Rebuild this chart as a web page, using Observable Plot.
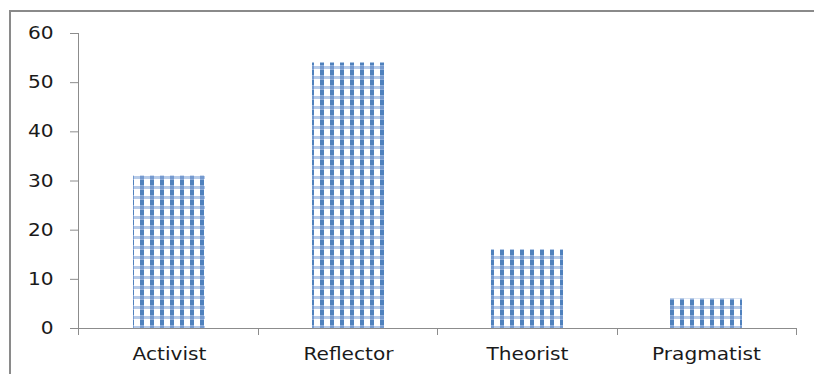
<!DOCTYPE html>
<html><head><meta charset="utf-8">
<script src="https://cdn.jsdelivr.net/npm/d3@7"></script>
<script src="https://cdn.jsdelivr.net/npm/@observablehq/plot@0.6"></script>
<style>body{margin:0;background:#fff}#chart{position:relative;width:814px;height:374px}</style>
</head><body><div id="chart"></div>
<script>
const categories = ["Activist", "Reflector", "Theorist", "Pragmatist"];
const values = [31, 54, 16, 6];
const yTicks = [0, 10, 20, 30, 40, 50, 60];

const data = categories.map((c, i) => ({category: c, value: values[i]}));
const grid = "#8c8c8c";

const plot = Plot.plot({
  width: 814, height: 374,
  marginLeft: 78, marginRight: 18, marginTop: 33, marginBottom: 46,
  style: {fontFamily: "DejaVu Sans", fontSize: "17.5px", color: "#1a1a1a", background: "white"},
  x: {domain: categories, paddingInner: 0.6, paddingOuter: 0.3, label: null},
  y: {domain: [0, 60], ticks: yTicks, label: null},
  marks: [
    Plot.ruleY(yTicks, {stroke: grid, strokeWidth: 1, x1: null}),
    Plot.barY(data, {x: "category", y: "value", fill: "url(#checker)"}),
    Plot.axisY({ticks: yTicks, tickSize: 8, tickPadding: 17, stroke: grid, strokeOpacity: 1, fontSize: 17.5}),
    Plot.axisX({tickSize: 0, tickPadding: 19, fontSize: 17.5}),
    Plot.ruleX([0], {stroke: grid})
  ]
});

const svg = d3.select(plot);
const defs = svg.insert("defs", ":first-child");
const pat = defs.append("pattern").attr("id", "checker").attr("patternUnits", "userSpaceOnUse")
  .attr("width", 10).attr("height", 10);
pat.append("rect").attr("width", 10).attr("height", 10).attr("fill", "#ffffff");
pat.append("rect").attr("x", 0).attr("width", 4).attr("height", 10).attr("fill", "#8eaedb");
pat.append("rect").attr("y", 6).attr("width", 10).attr("height", 3).attr("fill", "#b7cbe8");
pat.append("rect").attr("x", 0).attr("y", 6).attr("width", 4).attr("height", 3).attr("fill", "#7499cf");
pat.append("rect").attr("x", 0).attr("y", 0).attr("width", 4).attr("height", 5).attr("fill", "#4f81bd");

// stretch tick labels horizontally like the reference
svg.selectAll("g[aria-label$='tick label'] text").each(function() {
  const t = this.getAttribute("transform") || "";
  this.setAttribute("transform", t + " scale(1.15,1)");
});

// x boundary ticks and axis lines, derived from the plot's scales
const xs = plot.scale("x"), ys = plot.scale("y");
const x = d3.scaleBand().domain(xs.domain).range(xs.range).paddingInner(0.6).paddingOuter(0.3);
const y = d3.scaleLinear().domain(ys.domain).range(ys.range);
const step = x.step();
const left = xs.range[0], right = xs.range[1];
const bounds = categories.map(c => x(c) - step * 0.3).concat([right]);
const g = svg.append("g").attr("stroke", grid);
g.append("line").attr("x1", left).attr("x2", right).attr("y1", y(0) + 0.5).attr("y2", y(0) + 0.5);
g.append("line").attr("x1", left + 0.5).attr("x2", left + 0.5).attr("y1", y(60)).attr("y2", y(0) + 7);
bounds.forEach(b => g.append("line").attr("x1", Math.round(b) + 0.5).attr("x2", Math.round(b) + 0.5)
  .attr("y1", y(0)).attr("y2", y(0) + 7));
// outer chart frame
svg.append("path").attr("d", "M10,380V11H820").attr("fill", "none").attr("stroke", "#8a8a8a").attr("stroke-width", 2);

document.getElementById("chart").appendChild(plot);
</script></body></html>
